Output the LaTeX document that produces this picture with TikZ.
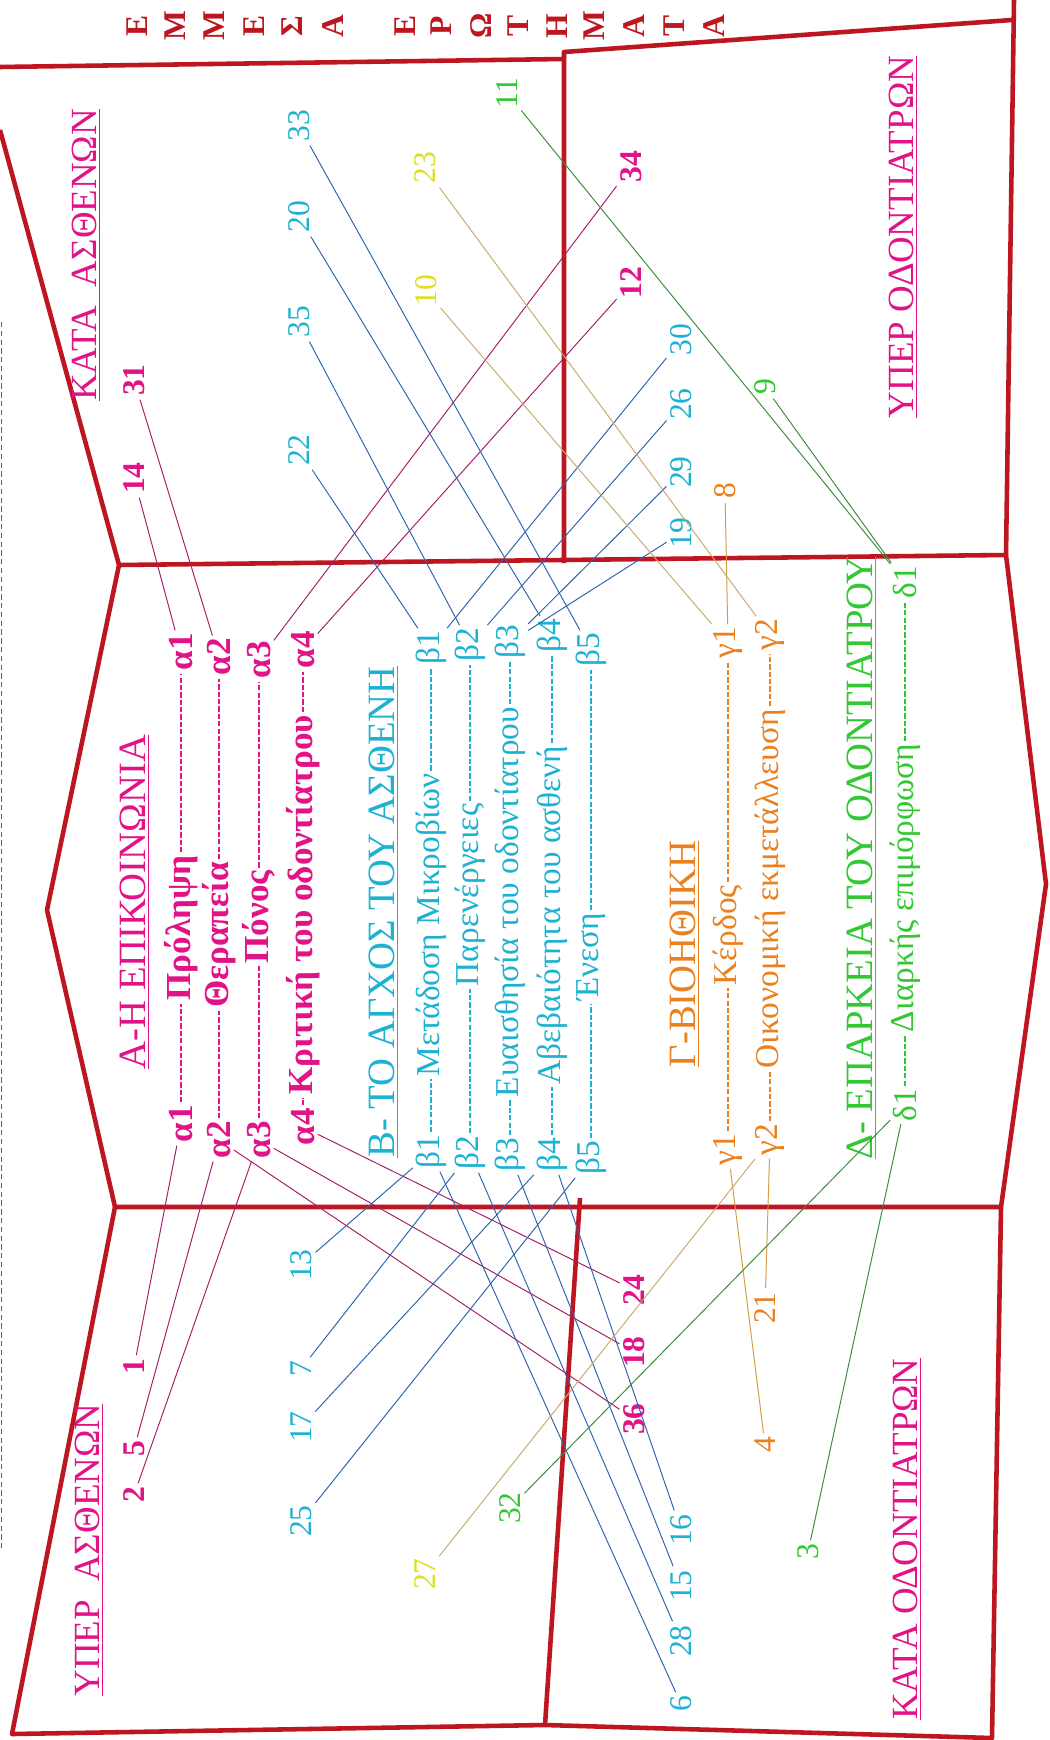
\documentclass[tikz,border=0pt]{standalone}
\usepackage{fontspec}
\setmainfont{Liberation Serif}
\usepackage{tikz}
\usetikzlibrary{calc}

\definecolor{redframe}{RGB}{190,22,32}
\definecolor{mag}{RGB}{226,18,135}
\definecolor{magline}{RGB}{165,30,105}
\definecolor{cyn}{RGB}{30,178,210}
\definecolor{cynline}{RGB}{45,100,175}
\definecolor{ylw}{RGB}{222,222,35}
\definecolor{ylwline}{RGB}{200,170,110}
\definecolor{orn}{RGB}{235,128,30}
\definecolor{ornline}{RGB}{215,155,70}
\definecolor{grn}{RGB}{50,200,50}
\definecolor{grnline}{RGB}{60,140,60}

\begin{document}
\begin{tikzpicture}[%
  x=0.02cm, y=-0.02cm,%
  border/.style={draw=redframe, line width=2.6pt, line join=round},%
  rotxt/.style={rotate=90, inner sep=1.5pt},%
  side/.style={rotxt, text=mag, font=\fontsize{21}{23}\selectfont},%
  sect/.style={rotxt, font=\fontsize{22}{24}\selectfont},%
  rowa/.style={rotxt, text=mag, font=\fontsize{20}{22}\selectfont\bfseries},%
  rowb/.style={rotxt, text=cyn, font=\fontsize{19}{21}\selectfont},%
  rowc/.style={rotxt, text=orn, font=\fontsize{19}{21}\selectfont},%
  rowd/.style={rotxt, text=grn, font=\fontsize{19}{21}\selectfont},%
  num/.style={rotxt, inner sep=2pt, font=\fontsize{18}{20}\selectfont},%
  numa/.style={num, text=mag, font=\fontsize{18}{20}\selectfont\bfseries},%
  lead/.style={dash pattern=on 3pt off 1.2pt, line width=0.6pt},%
  link/.style={line width=0.55pt},%
  toplet/.style={rotxt, text=redframe, font=\fontsize{18}{20}\selectfont\bfseries}%
]
  \fill[white] (0,0) rectangle (1049,1740);
  \useasboundingbox (0,0) rectangle (1049,1740);

  % frame
  \draw[border] (0,67) -- (564,59);
  \draw[border] (564,563) -- (564,52) -- (1012,20);
  \draw[border] (1014,0) -- (1006,555);
  \draw[border] (0,130) -- (119,565);
  \draw[border] (119,565) -- (1006,555) -- (1046,884) -- (1001,1207) -- (115,1207) -- (47,910) -- cycle;
  \draw[border] (115,1207) -- (12,1734) -- (545,1725) -- (992,1738) -- (1001,1207);
  \draw[border] (580,1198) -- (545,1725);
  \draw[mag, dash pattern=on 3pt off 2pt, line width=0.5pt] (1,322) -- (1,1549);

  % stacked letters on top
  \node[toplet] (e1) at (137,26) {Ε};
  \node[toplet] (e2) at (175,26) {Μ};
  \node[toplet] (e3) at (214,26) {Μ};
  \node[toplet] (e4) at (254,26) {Ε};
  \node[toplet] (e5) at (292,26) {Σ};
  \node[toplet] (e6) at (333,26) {Α};
  \node[toplet] (e7) at (405,26) {Ε};
  \node[toplet] (e8) at (441,26) {Ρ};
  \node[toplet] (e9) at (481,26) {Ω};
  \node[toplet] (e10) at (518,26) {Τ};
  \node[toplet] (e11) at (557,26) {Η};
  \node[toplet] (e12) at (594,26) {Μ};
  \node[toplet] (e13) at (634,26) {Α};
  \node[toplet] (e14) at (674,26) {Τ};
  \node[toplet] (e15) at (714,26) {Α};

  % panel titles
  \node[side] (kataAs) at (86,255) {\underline{ΚΑΤΑ\ \ ΑΣΘΕΝΩΝ}};
  \node[side] (yperOd) at (903,237) {\underline{ΥΠΕΡ ΟΔΟΝΤΙΑΤΡΩΝ}};
  \node[side] (yperAs) at (89,1550) {\underline{ΥΠΕΡ\ \ ΑΣΘΕΝΩΝ}};
  \node[side] (kataOd) at (907,1539) {\underline{ΚΑΤΑ ΟΔΟΝΤΙΑΤΡΩΝ}};

  % section titles
  \node[sect, text=mag] (secA) at (135,902) {\underline{Α-Η ΕΠΙΚΟΙΝΩΝΙΑ}};
  \node[sect, text=cyn] (secB) at (384,912) {\underline{Β- ΤΟ ΑΓΧΟΣ ΤΟΥ ΑΣΘΕΝΗ}};
  \node[sect, text=orn] (secC) at (685,954) {\underline{Γ-ΒΙΟΗΘΙΚΗ}};
  \node[sect, text=grn] (secD) at (862,858) {\underline{Δ- ΕΠΑΡΚΕΙΑ ΤΟΥ ΟΔΟΝΤΙΑΤΡΟΥ}};

  % rows A
  \node[rowa] (aL1) at (181,1124) {α1};
  \node[rowa] (aT1) at (181,928) {Πρόληψη};
  \node[rowa] (aR1) at (181,652) {α1};
  \node[rowa] (aL2) at (219,1140) {α2};
  \node[rowa] (aT2) at (219,935) {Θεραπεία};
  \node[rowa] (aR2) at (219,657) {α2};
  \node[rowa] (aL3) at (259,1140) {α3};
  \node[rowa] (aT3) at (259,917) {Πόνος};
  \node[rowa] (aR3) at (259,660) {α3};
  \node[rowa] (aL4) at (303,1127) {α4};
  \node[rowa] (aT4) at (303,905) {Κριτική του οδοντίατρου};
  \node[rowa] (aR4) at (303,650) {α4};
  \draw[lead, mag] (aL1) -- (aT1) -- (aR1);
  \draw[lead, mag] (aL2) -- (aT2) -- (aR2);
  \draw[lead, mag] (aL3) -- (aT3) -- (aR3);
  \draw[lead, mag] (aL4) -- (aT4) -- (aR4);

  % rows B
  \node[rowb] (bL1) at (431,1152) {β1};
  \node[rowb] (bT1) at (431,925) {Μετάδοση Μικροβίων};
  \node[rowb] (bR1) at (431,648) {β1};
  \node[rowb] (bL2) at (470,1153) {β2};
  \node[rowb] (bT2) at (470,895) {Παρενέργειες};
  \node[rowb] (bR2) at (470,645) {β2};
  \node[rowb] (bL3) at (510,1155) {β3};
  \node[rowb] (bT3) at (510,902) {Ευαισθησία του οδοντίατρου};
  \node[rowb] (bR3) at (510,642) {β3};
  \node[rowb] (bL4) at (552,1155) {β4};
  \node[rowb] (bT4) at (552,915) {Αβεβαιότητα του ασθενή};
  \node[rowb] (bR4) at (552,636) {β4};
  \node[rowb] (bL5) at (591,1158) {β5};
  \node[rowb] (bT5) at (591,957) {Ένεση};
  \node[rowb] (bR5) at (591,650) {β5};
  \draw[lead, cyn] (bL1) -- (bT1) -- (bR1);
  \draw[lead, cyn] (bL2) -- (bT2) -- (bR2);
  \draw[lead, cyn] (bL3) -- (bT3) -- (bR3);
  \draw[lead, cyn] (bL4) -- (bT4) -- (bR4);
  \draw[lead, cyn] (bL5) -- (bT5) -- (bR5);

  % rows C
  \node[rowc] (cL1) at (728,1150) {γ1};
  \node[rowc] (cT1) at (728,935) {Κέρδος};
  \node[rowc] (cR1) at (728,643) {γ1};
  \node[rowc] (cL2) at (770,1140) {γ2};
  \node[rowc] (cT2) at (770,889) {Οικονομική εκμετάλλευση};
  \node[rowc] (cR2) at (770,635) {γ2};
  \draw[lead, orn] (cL1) -- (cT1) -- (cR1);
  \draw[lead, orn] (cL2) -- (cT2) -- (cR2);

  % row D
  \node[rowd] (dL1) at (905,1105) {δ1};
  \node[rowd] (dT1) at (905,888) {Διαρκής επιμόρφωση};
  \node[rowd] (dR1) at (905,582) {δ1};
  \draw[lead, grn] (dL1) -- (dT1) -- (dR1);

  % numbers, top
  \node[numa] (n14) at (134,478) {14};
  \node[numa] (n31) at (134,380) {31};
  \node[num, text=cyn] (n33) at (299,126) {33};
  \node[num, text=cyn] (n20) at (299,217) {20};
  \node[num, text=cyn] (n35) at (299,322) {35};
  \node[num, text=cyn] (n22) at (299,450) {22};
  \node[num, text=ylw] (n23) at (425,168) {23};
  \node[num, text=ylw] (n10) at (426,291) {10};
  \node[num, text=grn] (n11) at (507,93) {11};
  \node[numa] (n34) at (631,167) {34};
  \node[numa] (n12) at (631,283) {12};
  \node[num, text=cyn] (n30) at (681,340) {30};
  \node[num, text=cyn] (n26) at (681,404) {26};
  \node[num, text=cyn] (n29) at (681,472) {29};
  \node[num, text=cyn] (n19) at (681,533) {19};
  \node[num, text=orn] (n8) at (725,491) {8};
  \node[num, text=grn] (n9) at (765,387) {9};

  % numbers, bottom
  \node[numa] (n1) at (134,1367) {1};
  \node[numa] (n5) at (134,1449) {5};
  \node[numa] (n2) at (134,1495) {2};
  \node[num, text=cyn] (n13) at (301,1265) {13};
  \node[num, text=cyn] (n7) at (301,1369) {7};
  \node[num, text=cyn] (n17) at (301,1427) {17};
  \node[num, text=cyn] (n25) at (301,1521) {25};
  \node[num, text=ylw] (n27) at (425,1574) {27};
  \node[num, text=grn] (n32) at (510,1508) {32};
  \node[numa] (n24) at (634,1290) {24};
  \node[numa] (n18) at (634,1352) {18};
  \node[numa] (n36) at (634,1419) {36};
  \node[num, text=cyn] (n16) at (681,1530) {16};
  \node[num, text=cyn] (n15) at (681,1586) {15};
  \node[num, text=cyn] (n28) at (681,1641) {28};
  \node[num, text=cyn] (n6) at (681,1704) {6};
  \node[num, text=orn] (n21) at (765,1308) {21};
  \node[num, text=orn] (n4) at (765,1445) {4};
  \node[num, text=grn] (n3) at (808,1552) {3};

  % links A
  \draw[link, magline] (n14) -- (aR1);
  \draw[link, magline] (n31) -- (aR2);
  \draw[link, magline] (n34) -- (aR3);
  \draw[link, magline] (n12) -- (aR4);
  \draw[link, magline] (aL1) -- (n1);
  \draw[link, magline] (aL2) -- (n5);
  \draw[link, magline] (aL2) -- (n36);
  \draw[link, magline] (aL3) -- (n2);
  \draw[link, magline] (aL3) -- (n18);
  \draw[link, magline] (aL4) -- (n24);

  % links B
  \draw[link, cynline] (n22) -- (bR1);
  \draw[link, cynline] (n30) -- (bR1);
  \draw[link, cynline] (n35) -- (bR2);
  \draw[link, cynline] (n26) -- (bR2);
  \draw[link, cynline] (n29) -- (bR3);
  \draw[link, cynline] (n19) -- (bR3);
  \draw[link, cynline] (n20) -- (bR4);
  \draw[link, cynline] (n33) -- (bR5);
  \draw[link, cynline] (bL1) -- (n13);
  \draw[link, cynline] (bL1) -- (n6);
  \draw[link, cynline] (bL2) -- (n7);
  \draw[link, cynline] (bL2) -- (n28);
  \draw[link, cynline] (bL3) -- (n15);
  \draw[link, cynline] (bL4) -- (n17);
  \draw[link, cynline] (bL4) -- (n16);
  \draw[link, cynline] (bL5) -- (n25);

  % links C, D
  \draw[link, ylwline] (n10) -- (cR1);
  \draw[link, ornline] (n8) -- (cR1);
  \draw[link, ylwline] (n23) -- (cR2);
  \draw[link, ornline] (cL1) -- (n4);
  \draw[link, ornline] (cL2) -- (n21);
  \draw[link, ylwline] (cL2) -- (n27);
  \draw[link, grnline] (n11) -- (dR1);
  \draw[link, grnline] (n9) -- (dR1);
  \draw[link, grnline] (dL1) -- (n32);
  \draw[link, grnline] (dL1) -- (n3);
\end{tikzpicture}
\end{document}
